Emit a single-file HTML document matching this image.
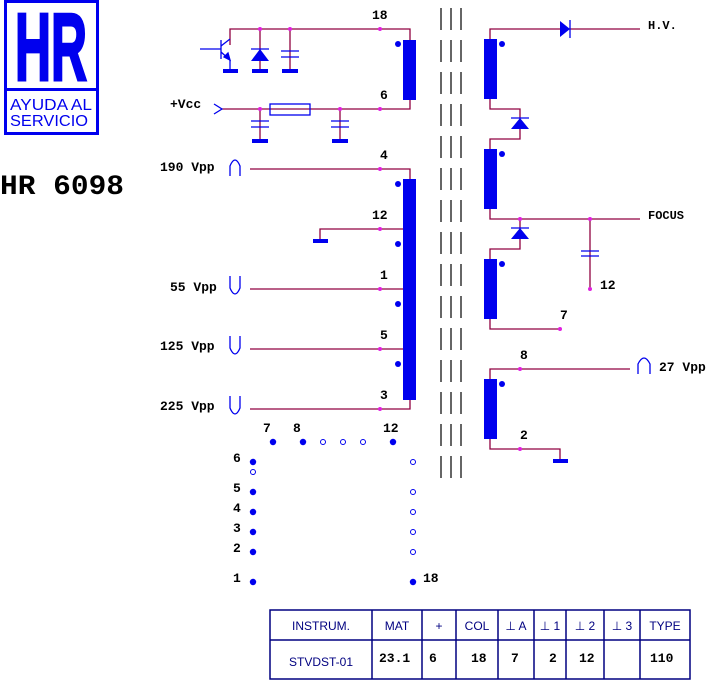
<!DOCTYPE html>
<html><head><style>body{margin:0;background:#fff}svg{display:block}</style></head><body>
<svg width="715" height="680" xmlns="http://www.w3.org/2000/svg" font-family="Liberation Mono, monospace" font-weight="bold" font-size="13">
<rect width="715" height="680" fill="#fff"/>
<!-- logo -->
<rect x="5.5" y="1.5" width="92" height="132" fill="none" stroke="#0000ee" stroke-width="3"/>
<line x1="5" y1="89.5" x2="98" y2="89.5" stroke="#0000ee" stroke-width="3"/>
<text x="15" y="80" font-family="Liberation Sans, sans-serif" font-size="96" font-weight="bold" fill="#0000ee" stroke="#0000ee" stroke-width="3" textLength="72" lengthAdjust="spacingAndGlyphs">HR</text>
<text x="10" y="110" font-family="Liberation Sans, sans-serif" font-weight="normal" font-size="16" fill="#0000ee" textLength="82" lengthAdjust="spacingAndGlyphs">AYUDA AL</text>
<text x="10" y="126" font-family="Liberation Sans, sans-serif" font-weight="normal" font-size="16" fill="#0000ee" textLength="78" lengthAdjust="spacingAndGlyphs">SERVICIO</text>
<text x="0" y="194" font-size="28" fill="#000" textLength="124" lengthAdjust="spacingAndGlyphs">HR 6098</text>

<g stroke="#900040" stroke-width="1.3" fill="none">
<polyline points="230,45 230,29 410,29 410,40"/>
<polyline points="222,109 410,109 410,100"/>
<line x1="260" y1="29" x2="260" y2="70"/><line x1="290" y1="29" x2="290" y2="70"/>
<line x1="260" y1="109" x2="260" y2="140"/><line x1="340" y1="109" x2="340" y2="140"/>
<polyline points="250,169 410,169 410,179"/>
<polyline points="320,240 320,229 410,229"/>
<line x1="250" y1="289" x2="410" y2="289"/>
<line x1="250" y1="349" x2="410" y2="349"/>
<polyline points="250,409 410,409 410,400"/>
<polyline points="490,39 490,29 640,29"/>
<polyline points="490,99 490,109 520,109 520,139 490,139 490,149"/>
<polyline points="490,209 490,219 640,219"/>
<polyline points="520,219 520,249 490,249 490,259"/>
<line x1="590" y1="219" x2="590" y2="289"/>
<polyline points="490,319 490,329 560,329"/>
<polyline points="490,379 490,369 630,369"/>
<polyline points="490,439 490,449 560,449 560,460"/>
</g>
<g fill="#0000ee">
<rect x="403" y="40" width="13" height="60"/>
<rect x="403" y="179" width="13" height="221"/>
<rect x="484" y="39" width="13" height="60"/>
<rect x="484" y="149" width="13" height="60"/>
<rect x="484" y="259" width="13" height="60"/>
<rect x="484" y="379" width="13" height="60"/>
<circle cx="398" cy="44" r="3"/><circle cx="398" cy="184" r="3"/><circle cx="398" cy="244" r="3"/><circle cx="398" cy="304" r="3"/><circle cx="398" cy="364" r="3"/>
<circle cx="502" cy="44" r="3"/><circle cx="502" cy="154" r="3"/><circle cx="502" cy="264" r="3"/><circle cx="502" cy="384" r="3"/>
<rect x="223" y="69" width="15" height="4"/><rect x="252" y="69" width="16" height="4"/><rect x="282" y="69" width="16" height="4"/>
<rect x="252" y="139" width="16" height="4"/><rect x="332" y="139" width="16" height="4"/>
<rect x="313" y="239" width="15" height="4"/><rect x="553" y="459" width="15" height="4"/>
<polygon points="251,61 269,61 260,49"/>
<polygon points="511,129 529,129 520,118"/>
<polygon points="511,239 529,239 520,228"/>
<polygon points="560,21 560,37 570,29"/>
</g>
<g stroke="#0000ee" stroke-width="1.3" fill="none">
<line x1="251" y1="49" x2="269" y2="49"/><line x1="511" y1="118" x2="529" y2="118"/><line x1="511" y1="228" x2="529" y2="228"/><line x1="570" y1="20" x2="570" y2="38"/>
<line x1="281" y1="51" x2="299" y2="51"/><line x1="281" y1="57" x2="299" y2="57"/>
<line x1="251" y1="121" x2="269" y2="121"/><line x1="251" y1="127" x2="269" y2="127"/>
<line x1="331" y1="121" x2="349" y2="121"/><line x1="331" y1="127" x2="349" y2="127"/>
<line x1="581" y1="251" x2="599" y2="251"/><line x1="581" y1="256" x2="599" y2="256"/>
<line x1="200" y1="49" x2="221" y2="49"/><line x1="221" y1="40" x2="221" y2="59"/>
<line x1="221" y1="46" x2="230" y2="39"/><line x1="221" y1="52" x2="230" y2="60"/>
<polygon points="230,60 224,57 228,53" fill="#0000ee"/>
<line x1="230" y1="60" x2="230" y2="70"/>
<polyline points="214,104 222,109 214,114"/>
<rect x="270" y="104" width="40" height="11"/>
<path d="M230,176 L230,166 Q235,154 240,166 L240,176"/>
<path d="M230,276 L230,288 Q235,300 240,288 L240,276"/>
<path d="M230,336 L230,348 Q235,360 240,348 L240,336"/>
<path d="M230,396 L230,408 Q235,420 240,408 L240,396"/>
<path d="M638,374 L638,364 Q644,352 650,364 L650,374"/>
</g>
<g fill="#e020e0">
<circle cx="260" cy="29" r="2"/><circle cx="290" cy="29" r="2"/><circle cx="380" cy="29" r="2"/>
<circle cx="260" cy="109" r="2"/><circle cx="340" cy="109" r="2"/><circle cx="380" cy="109" r="2"/>
<circle cx="380" cy="169" r="2"/><circle cx="380" cy="229" r="2"/><circle cx="380" cy="289" r="2"/><circle cx="380" cy="349" r="2"/><circle cx="380" cy="409" r="2"/>
<circle cx="520" cy="219" r="2"/><circle cx="590" cy="219" r="2"/><circle cx="590" cy="289" r="2"/><circle cx="560" cy="329" r="2"/><circle cx="520" cy="369" r="2"/><circle cx="520" cy="449" r="2"/>
</g>
<g stroke="#000" stroke-width="1.2" stroke-dasharray="22,10">
<line x1="441" y1="8" x2="441" y2="478"/><line x1="451" y1="8" x2="451" y2="478"/><line x1="461" y1="8" x2="461" y2="478"/>
</g>
<g fill="#000">
<text x="372" y="19">18</text><text x="380" y="99">6</text><text x="170" y="108">+Vcc</text>
<text x="380" y="159">4</text><text x="372" y="219">12</text><text x="380" y="279">1</text><text x="380" y="339">5</text><text x="380" y="399">3</text>
<text x="160" y="171">190 Vpp</text><text x="170" y="291">55 Vpp</text><text x="160" y="350">125 Vpp</text><text x="160" y="410">225 Vpp</text>
<text x="648" y="29" font-size="12">H.V.</text><text x="648" y="219" font-size="12">FOCUS</text>
<text x="600" y="289">12</text><text x="560" y="319">7</text><text x="520" y="359">8</text><text x="520" y="439">2</text><text x="659" y="371">27 Vpp</text>
<text x="263" y="432">7</text><text x="293" y="432">8</text><text x="383" y="432">12</text>
<text x="233" y="462">6</text><text x="233" y="492">5</text><text x="233" y="512">4</text><text x="233" y="532">3</text><text x="233" y="552">2</text><text x="233" y="582">1</text><text x="423" y="582">18</text>
</g>
<g fill="#0000ee">
<circle cx="273" cy="442" r="3.2"/><circle cx="303" cy="442" r="3.2"/><circle cx="393" cy="442" r="3.2"/>
<circle cx="253" cy="462" r="3.2"/><circle cx="253" cy="492" r="3.2"/><circle cx="253" cy="512" r="3.2"/><circle cx="253" cy="532" r="3.2"/><circle cx="253" cy="552" r="3.2"/><circle cx="253" cy="582" r="3.2"/><circle cx="413" cy="582" r="3.2"/>
</g>
<g fill="none" stroke="#0000ee" stroke-width="1">
<circle cx="323" cy="442" r="2.5"/><circle cx="343" cy="442" r="2.5"/><circle cx="363" cy="442" r="2.5"/>
<circle cx="253" cy="472" r="2.5"/><circle cx="413" cy="462" r="2.5"/><circle cx="413" cy="492" r="2.5"/><circle cx="413" cy="512" r="2.5"/><circle cx="413" cy="532" r="2.5"/><circle cx="413" cy="552" r="2.5"/>
</g>
<g stroke="#000080" stroke-width="1.5" fill="none">
<rect x="270" y="610" width="420" height="69"/>
<line x1="270" y1="640" x2="690" y2="640"/>
<line x1="372" y1="610" x2="372" y2="679"/><line x1="422" y1="610" x2="422" y2="679"/><line x1="456" y1="610" x2="456" y2="679"/><line x1="498" y1="610" x2="498" y2="679"/><line x1="534" y1="610" x2="534" y2="679"/><line x1="566" y1="610" x2="566" y2="679"/><line x1="604" y1="610" x2="604" y2="679"/><line x1="640" y1="610" x2="640" y2="679"/>
</g>
<g font-family="Liberation Sans, sans-serif" font-weight="normal" font-size="12" fill="#000080" text-anchor="middle">
<text x="321" y="630">INSTRUM.</text><text x="397" y="630">MAT</text><text x="439" y="630">+</text><text x="477" y="630">COL</text><text x="516" y="630">⊥ A</text><text x="550" y="630">⊥ 1</text><text x="585" y="630">⊥ 2</text><text x="622" y="630">⊥ 3</text><text x="665" y="630">TYPE</text>
<text x="321" y="666">STVDST-01</text>
</g>
<g fill="#000" font-size="13">
<text x="379" y="662">23.1</text><text x="429" y="662">6</text><text x="471" y="662">18</text><text x="511" y="662">7</text><text x="549" y="662">2</text><text x="579" y="662">12</text><text x="650" y="662">110</text>
</g>
</svg>
</body></html>
